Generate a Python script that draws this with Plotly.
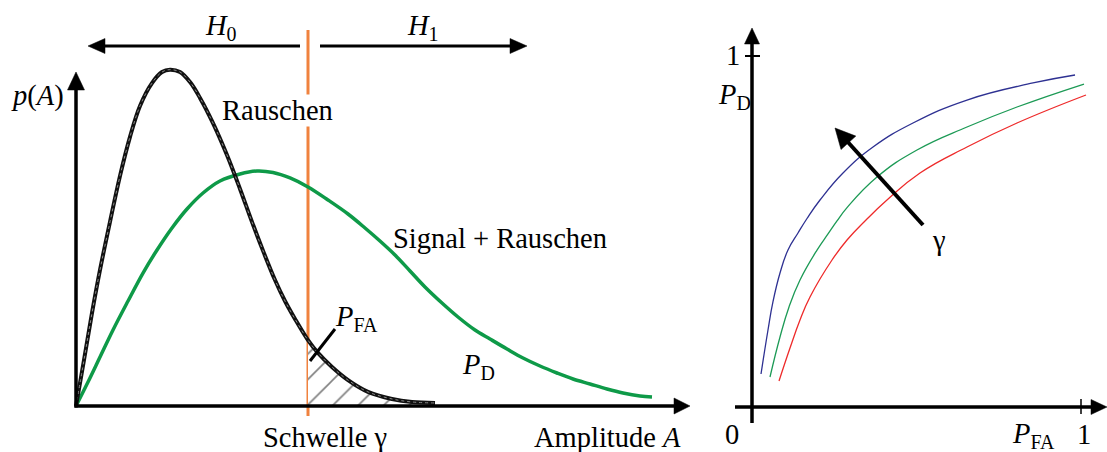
import plotly.graph_objects as go

# ---------------- data ----------------
threshold = 4.0  # Schwelle gamma (amplitude units)

noise_A = [0, 0.138, 0.276, 0.414, 0.586, 0.759, 0.931, 1.103, 1.310, 1.483, 1.621, 1.793,
           1.966, 2.138, 2.362, 2.603, 2.828, 3.034, 3.241, 3.431, 3.603, 3.776, 4.000,
           4.172, 4.414, 4.690, 5.034, 5.448, 5.793, 6.190]
noise_p = [0, 0.137, 0.277, 0.405, 0.548, 0.685, 0.801, 0.893, 0.961, 0.994, 1.001, 0.994,
           0.964, 0.917, 0.842, 0.747, 0.646, 0.548, 0.455, 0.375, 0.3125, 0.259, 0.196,
           0.158, 0.116, 0.077, 0.042, 0.021, 0.012, 0.009]

signal_A = [0, 0.207, 0.414, 0.638, 0.897, 1.155, 1.397, 1.655, 1.914, 2.190, 2.483, 2.828,
            3.121, 3.397, 3.690, 4.000, 4.345, 4.690, 4.983, 5.241, 5.500, 5.759, 6.017,
            6.310, 6.586, 6.879, 7.138, 7.431, 7.707, 8.000, 8.293, 8.569, 8.862, 9.155,
            9.431, 9.724, 9.931]
signal_p = [0, 0.0714, 0.1458, 0.2262, 0.3125, 0.3958, 0.4643, 0.5298, 0.5863, 0.6339,
            0.6696, 0.6905, 0.6994, 0.6949, 0.6786, 0.6518, 0.6131, 0.5714, 0.5298, 0.4911,
            0.4494, 0.4018, 0.3542, 0.3065, 0.2649, 0.2262, 0.1994, 0.1696, 0.1429, 0.1190,
            0.0982, 0.0804, 0.0655, 0.0506, 0.0387, 0.0298, 0.0268]

roc_blue_pfa = [0.0274, 0.0486, 0.0638, 0.0851, 0.1094, 0.1398, 0.1672, 0.2067, 0.2766,
                0.3678, 0.4894, 0.6535, 0.8541, 0.9818]
roc_blue_pd = [0.0940, 0.2194, 0.3000, 0.3818, 0.4473, 0.4957, 0.5370, 0.5897, 0.6667,
               0.7407, 0.8091, 0.8746, 0.9231, 0.9459]
roc_green_pfa = [0.0547, 0.0851, 0.1125, 0.1459, 0.1976, 0.2310, 0.2584, 0.2888, 0.3799,
                 0.5015, 0.6535, 0.8055, 1.0091]
roc_green_pd = [0.0855, 0.1994, 0.2849, 0.3618, 0.4470, 0.4930, 0.5300, 0.5680, 0.6553,
                0.7322, 0.7977, 0.8547, 0.9202]
roc_red_pfa = [0.0821, 0.1155, 0.1459, 0.1763, 0.2432, 0.2888, 0.3465, 0.4103, 0.5106,
               0.6535, 0.8055, 1.0152]
roc_red_pd = [0.0741, 0.1680, 0.2479, 0.3134, 0.4188, 0.4758, 0.5328, 0.5897, 0.6667,
              0.7407, 0.8091, 0.8889]

# ---------------- geometry ----------------
W, H = 1107, 452
LX0, LKX = 76.0, 58.0     # left panel: px = LX0 + LKX*A
LY0, LKY = 406.0, 336.0   # py = LY0 - LKY*p
RX0, RKX = 752.0, 329.0   # right panel
RY0, RKY = 407.0, 351.0
SPLIT = 700.0

ORANGE = "#F0823E"
GREEN = "#0E9A48"
FONT = "Liberation Serif, Times New Roman, serif"
FS = 28.5

fig = go.Figure()

# hatched tail area (P_FA)
tail_A = [a for a in noise_A if a >= threshold]
tail_p = [p for a, p in zip(noise_A, noise_p) if a >= threshold]
fig.add_trace(go.Scatter(x=tail_A, y=tail_p, mode="lines", fill="tozeroy",
                         line=dict(width=0, shape="spline"), fillcolor="rgba(0,0,0,0)",
                         fillpattern=dict(shape="/", size=18, solidity=0.09,
                                          fgcolor="black", bgcolor="white"),
                         xaxis="x", yaxis="y", hoverinfo="skip"))

fig.add_trace(go.Scatter(x=signal_A, y=signal_p, mode="lines",
                         line=dict(color=GREEN, width=3.5, shape="spline", smoothing=1.0),
                         xaxis="x", yaxis="y"))
fig.add_trace(go.Scatter(x=noise_A, y=noise_p, mode="lines",
                         line=dict(color="#111111", width=4, shape="spline", smoothing=1.0),
                         xaxis="x", yaxis="y"))
fig.add_trace(go.Scatter(x=noise_A, y=noise_p, mode="lines",
                         line=dict(color="#8a8a8a", width=1, shape="spline", smoothing=1.0, dash="dot"),
                         xaxis="x", yaxis="y"))

for xs, ys, col in [(roc_blue_pfa, roc_blue_pd, "#2E3192"),
                    (roc_green_pfa, roc_green_pd, "#1C9A55"),
                    (roc_red_pfa, roc_red_pd, "#EE2A2A")]:
    fig.add_trace(go.Scatter(x=xs, y=ys, mode="lines",
                             line=dict(color=col, width=1.3, shape="spline", smoothing=1.3),
                             xaxis="x2", yaxis="y2"))

shapes = []


def line(x0, y0, x1, y1, ref, color="black", width=3, layer="above"):
    shapes.append(dict(type="line", x0=x0, y0=y0, x1=x1, y1=y1,
                       xref="x" if ref == 1 else "x2", yref="y" if ref == 1 else "y2",
                       line=dict(color=color, width=width), layer=layer))


def head(tx, ty, dx, dy, ref, L=17.0, hw=8.0):
    kx, ky = (LKX, LKY) if ref == 1 else (RKX, RKY)
    ux, uy = dx * kx, -dy * ky
    n = (ux ** 2 + uy ** 2) ** 0.5
    ux, uy = ux / n, uy / n
    bx, by = -L * ux, -L * uy
    px_, py_ = -uy * hw, ux * hw
    pts = [(0, 0), (bx + px_, by + py_), (bx - px_, by - py_)]
    d = []
    for i, (a, b) in enumerate(pts):
        d.append(("M" if i == 0 else "L") + f"{tx + a / kx},{ty - b / ky}")
    shapes.append(dict(type="path", path=" ".join(d) + " Z",
                       xref="x" if ref == 1 else "x2", yref="y" if ref == 1 else "y2",
                       fillcolor="black", line=dict(color="black", width=0.5)))


def A(px):
    return (px - LX0) / LKX


def P(py):
    return (LY0 - py) / LKY


def RA(px):
    return (px - RX0) / RKX


def RP(py):
    return (RY0 - py) / RKY


# threshold line
line(threshold, P(30), threshold, P(416), 1, color=ORANGE, width=3, layer="below")
# left axes
line(A(74.5), 0, A(676), 0, 1, width=3.5)
head(A(690), 0, 1, 0, 1, L=16, hw=8)
line(0, P(407.5), 0, P(86), 1, width=3.5)
head(0, P(72), 0, 1, 1, L=18, hw=8.5)
# H0 / H1 arrows
line(A(300), P(46), A(102), P(46), 1, width=3)
head(A(88), P(46), -1, 0, 1, L=17, hw=7.5)
line(A(320), P(46), A(512), P(46), 1, width=3)
head(A(527), P(46), 1, 0, 1, L=17, hw=7.5)
# P_FA pointer
line(A(310), P(361), A(335), P(329), 1, width=3)

# right axes
line(0, RP(423), 0, RP(42), 2, width=3.5)
head(0, RP(28), 0, 1, 2, L=16, hw=7.5)
line(RA(735), 0, RA(1092), 0, 2, width=3.5)
head(RA(1107), 0, 1, 0, 2, L=16, hw=7.5)
line(RA(745), 1, RA(760), 1, 2, width=2)
line(1, RP(399), 1, RP(414), 2, width=1.5)
# gamma arrow
line(RA(923), RP(225), RA(846), RP(140), 2, width=4)
head(RA(835), RP(128), RA(835) - RA(923), RP(128) - RP(225), 2, L=20, hw=10)


def text(s, px, py, xanchor="center", bg=None, size=FS):
    d = dict(text=s, x=px / W, y=1 - py / H, xref="paper", yref="paper",
             xanchor=xanchor, yanchor="middle", showarrow=False,
             font=dict(family=FONT, size=size, color="black"))
    if bg:
        d["bgcolor"] = bg
        d["borderpad"] = 0
    return d


annotations = [
    text("<i>H</i><sub>0</sub>", 221, 28),
    text("<i>H</i><sub>1</sub>", 423, 28),
    text("<i>p</i>(<i>A</i>)", 37, 96),
    text("Rauschen", 277, 110, bg="white"),
    text("Signal + Rauschen", 500, 238),
    text("<i>P</i><sub>FA</sub>", 356, 318),
    text("<i>P</i><sub>D</sub>", 478, 366),
    text("Schwelle γ", 325, 437),
    text("Amplitude <i>A</i>", 683, 437, xanchor="right"),
    text("1", 733, 56),
    text("<i>P</i><sub>D</sub>", 735, 96),
    text("γ", 939, 240),
    text("0", 732, 434),
    text("<i>P</i><sub>FA</sub>", 1033, 435),
    text("1", 1084, 434),
]

fig.update_layout(
    width=W, height=H, margin=dict(l=0, r=0, t=0, b=0),
    paper_bgcolor="white", plot_bgcolor="white", showlegend=False,
    xaxis=dict(domain=[0, SPLIT / W], range=[A(0), A(SPLIT)], visible=False, fixedrange=True),
    yaxis=dict(domain=[0, 1], range=[P(H), P(0)], visible=False, fixedrange=True),
    xaxis2=dict(domain=[SPLIT / W, 1], range=[RA(SPLIT), RA(W)], visible=False, fixedrange=True,
                anchor="y2"),
    yaxis2=dict(domain=[0, 1], range=[RP(H), RP(0)], visible=False, fixedrange=True,
                anchor="x2"),
    shapes=shapes, annotations=annotations,
)

fig.write_html("out.html")
